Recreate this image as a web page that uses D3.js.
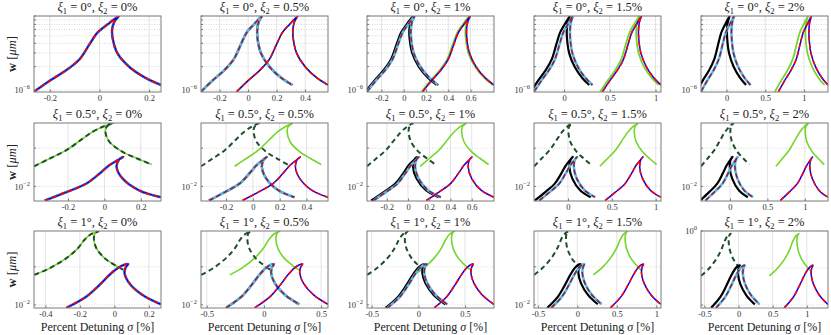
<!DOCTYPE html>
<html><head><meta charset="utf-8">
<script src="https://cdn.jsdelivr.net/npm/d3@7"></script>
<style>
body{margin:0;background:#fff}
svg{display:block}
text{font-family:"Liberation Serif","DejaVu Serif",serif}
</style>
</head><body>
<svg id="c" width="831" height="335"></svg>
<script>
// ---------------- data ----------------
const xi1Labels = ["0", "0.5", "1"];            // degrees, one per row
const xi2Labels = ["0", "0.5", "1", "1.5", "2"]; // percent, one per column
const detuningShift = [0, 0.25, 0.5, 0.75, 1.0];       // shift of the second resonance per column
const greenShiftRow1 = [0, 0.25, 0.49, 0.725, 0.955];   // green curve in row 1
const blackShift = [[0, 0, -0.014, -0.035, -0.058],
                    [0, 0, -0.02, -0.05, -0.07],
                    [0, 0, -0.02, -0.05, -0.07]];
const xMinRow = [-0.33, -0.387, -0.55];
const xMaxCol = [0.31, 0.56, 0.81, 1.06, 1.31];
const xDomainCol1 = [[-0.264, 0.248], [-0.387, 0.311], [-0.466, 0.270]];
const xTicks = [
  [[-0.2, 0, 0.2], [-0.2, 0, 0.2, 0.4], [-0.2, 0, 0.2, 0.4, 0.6], [0, 0.5, 1], [0, 0.5, 1]],
  [[-0.2, 0, 0.2], [-0.2, 0, 0.2, 0.4], [-0.2, 0, 0.2, 0.4, 0.6], [0, 0.5, 1], [0, 0.5, 1]],
  [[-0.4, -0.2, 0, 0.2], [-0.5, 0, 0.5], [-0.5, 0, 0.5], [-0.5, 0, 0.5, 1], [-0.5, 0, 0.5, 1]]
];
const yDomainRow = [[0.942e-6, 9.0e-6], [0.00415, 0.455], [0.0083, 0.87]];
const yTopRow3Col5 = 1.0;
const yGridMajor = [[1e-6], [1e-2, 1e-1], [1e-2, 1e-1, 1e0]];
const yGridMinor = [[2e-6, 3e-6, 4e-6, 5e-6, 6e-6, 7e-6, 8e-6, 9e-6], [], []];
const yLabelTicks = [[1e-6], [1e-2], [1e-2]];
const yLabelTicksRow3Col5 = [1e0];

// primary resonance curve (cyan / dark-red dashed), per row: [sigma %, w]
const curveA = [
  [[-0.33, 0.95e-6], [-0.25, 1.32e-6], [-0.167, 1.80e-6], [-0.10, 2.5e-6], [-0.05, 3.9e-6],
   [-0.01, 5.5e-6], [0.04, 7.0e-6], [0.097, 9.0e-6], [0.075, 7.6e-6], [0.064, 6.0e-6],
   [0.066, 4.65e-6], [0.09, 2.99e-6], [0.15, 1.99e-6], [0.233, 1.43e-6], [0.31, 1.16e-6]],
  [[-0.327, 0.00428], [-0.209, 0.00708], [-0.10, 0.0118], [-0.027, 0.0216], [0.027, 0.0357],
   [0.073, 0.0483], [0.104, 0.059], [0.082, 0.0514], [0.067, 0.0322], [0.10, 0.016],
   [0.191, 0.00785], [0.309, 0.00522]],
  [[-0.331, 0.0084], [-0.196, 0.0165], [-0.107, 0.0336], [-0.04, 0.0615], [0.016, 0.0925],
   [0.061, 0.113], [0.088, 0.118], [0.070, 0.096], [0.063, 0.068], [0.095, 0.0373],
   [0.184, 0.0183], [0.308, 0.0104]]
];
// first-column panels of rows 1 and 3 (xi2 = 0%) have their own curves
const curveARow1Col1 = [[-0.264, 0.95e-6], [-0.2, 1.32e-6], [-0.134, 1.80e-6], [-0.08, 2.5e-6],
  [-0.04, 3.9e-6], [-0.008, 5.5e-6], [0.032, 7.0e-6], [0.078, 9.0e-6], [0.06, 7.6e-6],
  [0.051, 6.0e-6], [0.053, 4.65e-6], [0.072, 2.99e-6], [0.12, 1.99e-6], [0.186, 1.43e-6],
  [0.248, 1.16e-6]];
const curveARow3Col1 = [[-0.278, 0.0084], [-0.163, 0.0165], [-0.086, 0.0336], [-0.029, 0.0615],
  [0.019, 0.0925], [0.057, 0.113], [0.080, 0.118], [0.065, 0.096], [0.059, 0.068], [0.086, 0.0373],
  [0.162, 0.0183], [0.268, 0.0104]];
// upper (angle) resonance curve (dark green dashed / light green), rows 2 and 3
const curveE = [
  null,
  [[-0.386, 0.0336], [-0.30, 0.0536], [-0.209, 0.0885], [-0.118, 0.18], [-0.064, 0.269],
   [-0.009, 0.364], [0.045, 0.447], [0.0125, 0.364], [0.0055, 0.269], [0.027, 0.147],
   [0.10, 0.080], [0.18, 0.0536], [0.26, 0.0372]],
  [[-0.548, 0.0615], [-0.443, 0.0925], [-0.331, 0.169], [-0.253, 0.31], [-0.208, 0.514],
   [-0.163, 0.726], [-0.115, 0.849], [-0.134, 0.77], [-0.145, 0.569], [-0.129, 0.31],
   [-0.073, 0.169], [-0.006, 0.113], [0.07, 0.078]]
];
const curveERow3Col1 = [[-0.464, 0.0615], [-0.374, 0.0925], [-0.278, 0.169], [-0.211, 0.31],
  [-0.173, 0.514], [-0.134, 0.726], [-0.093, 0.849], [-0.110, 0.77], [-0.119, 0.569],
  [-0.105, 0.31], [-0.057, 0.169], [0.000, 0.113], [0.065, 0.078]];

// ---------------- layout ----------------
const colLeft = [34, 201, 367, 534, 701];
const panelW = 127;
const rowTop = [16, 123, 231];
const rowBottom = [92, 201, 308];

const svg = d3.select("#c");
const defs = svg.append("defs");
const shift = (pts, s) => pts.map(p => [p[0] + s, p[1]]);

function supLabel(sel, v) {
  const e = Math.round(Math.log10(v));
  sel.text(null);
  sel.append("tspan").text("10");
  sel.append("tspan").attr("dy", -4).attr("font-size", 6.5).text(e < 0 ? "\u2212" + (-e) : String(e));
}

for (let r = 0; r < 3; r++) {
  for (let c = 0; c < 5; c++) {
    const x0 = colLeft[c], x1 = x0 + panelW, y0 = rowTop[r], y1 = rowBottom[r];
    const xdom = c === 0 ? xDomainCol1[r] : [xMinRow[r], xMaxCol[c]];
    const xs = d3.scaleLinear().domain(xdom).range([x0, x1]);
    const yd = (r === 2 && c === 4) ? [yDomainRow[2][0], yTopRow3Col5] : yDomainRow[r];
    const ys = d3.scaleLog().domain(yd).range([y1, y0]);
    const g = svg.append("g");
    const cid = `clip${r}${c}`;
    defs.append("clipPath").attr("id", cid).append("rect")
      .attr("x", x0).attr("y", y0).attr("width", panelW).attr("height", y1 - y0);

    // grid
    const xt = xTicks[r][c];
    g.selectAll(".vg").data(xt).join("line")
      .attr("x1", d => xs(d)).attr("x2", d => xs(d)).attr("y1", y0).attr("y2", y1)
      .attr("stroke", "#e3e3e3").attr("stroke-width", 1);
    const majors = yGridMajor[r].filter(v => v >= yd[0] * 0.999 && v <= yd[1] * 1.001);
    g.selectAll(".hg").data(majors.concat(yGridMinor[r])).join("line")
      .attr("x1", x0).attr("x2", x1).attr("y1", d => ys(d)).attr("y2", d => ys(d))
      .attr("stroke", "#cfcfcf").attr("stroke-width", 0.8).attr("stroke-dasharray", "1,1.5");

    // curves
    const line = d3.line().x(d => xs(d[0])).y(d => ys(d[1])).curve(d3.curveCatmullRom.alpha(0.5));
    const cg = g.append("g").attr("clip-path", `url(#${cid})`).attr("fill", "none")
      .attr("stroke-linejoin", "round");
    let A = curveA[r];
    if (c === 0 && r === 0) A = curveARow1Col1;
    if (c === 0 && r === 2) A = curveARow3Col1;
    const s = detuningShift[c];
    if (r === 0) {
      cg.append("path").attr("d", line(shift(A, greenShiftRow1[c])))
        .attr("stroke", "#74d62c").attr("stroke-width", 1.8);
    } else {
      const E = (c === 0 && r === 2) ? curveERow3Col1 : curveE[r];
      cg.append("path").attr("d", line(shift(E, s)))
        .attr("stroke", "#74d62c").attr("stroke-width", 1.6);
      cg.append("path").attr("d", line(E))
        .attr("stroke", "#1f4f2b").attr("stroke-width", 2).attr("stroke-dasharray", "5,3.5");
    }
    cg.append("path").attr("d", line(shift(A, blackShift[r][c])))
      .attr("stroke", "#000").attr("stroke-width", 2.2);
    cg.append("path").attr("d", line(A))
      .attr("stroke", "#4DBEEE").attr("stroke-width", 2.6);
    cg.append("path").attr("d", line(A))
      .attr("stroke", "#A2142F").attr("stroke-width", 1.5).attr("stroke-dasharray", "5,3");
    cg.append("path").attr("d", line(shift(A, s)))
      .attr("stroke", "#0000FF").attr("stroke-width", 1.5);
    cg.append("path").attr("d", line(shift(A, s)))
      .attr("stroke", "#FF0000").attr("stroke-width", 1.5).attr("stroke-dasharray", "5,3");

    // frame
    g.append("rect").attr("x", x0).attr("y", y0).attr("width", panelW).attr("height", y1 - y0)
      .attr("fill", "none").attr("stroke", "#7a7a7a").attr("stroke-width", 1);

    // x axis
    const xa = g.append("g").attr("transform", `translate(0,${y1})`)
      .call(d3.axisBottom(xs).tickValues(xt).tickSizeInner(-2.5).tickSizeOuter(0).tickPadding(3)
        .tickFormat(d => d3.format("")(d).replace("−", "-")));
    xa.select(".domain").remove();
    xa.selectAll("line").attr("stroke", "#7a7a7a");
    xa.selectAll("text").attr("font-size", 8.5).attr("fill", "#333").attr("font-family", "Liberation Serif, serif");

    // y axis
    const labs = (r === 2 && c === 4) ? yLabelTicksRow3Col5 : yLabelTicks[r];
    const ya = g.append("g").attr("transform", `translate(${x0},0)`)
      .call(d3.axisLeft(ys).tickValues(labs).tickSizeInner(0).tickSizeOuter(0).tickPadding(4));
    ya.select(".domain").remove();
    ya.selectAll("text").attr("font-size", 8.5).attr("fill", "#333").attr("font-family", "Liberation Serif, serif")
      .each(function (d) { supLabel(d3.select(this), d); });
    g.selectAll(".yt").data(majors.concat(yGridMinor[r])).join("line")
      .attr("x1", x0).attr("x2", x0 + 2).attr("y1", d => ys(d)).attr("y2", d => ys(d))
      .attr("stroke", "#7a7a7a");

    // title
    const t = g.append("text").attr("x", (x0 + x1) / 2).attr("y", y0 - 5)
      .attr("text-anchor", "middle").attr("font-size", 12.5).attr("fill", "#222");
    t.append("tspan").attr("font-style", "italic").text("ξ");
    t.append("tspan").attr("font-size", 8.5).attr("dy", 2.5).text("1");
    t.append("tspan").attr("dy", -2.5).text(` = ${xi1Labels[r]}°, `);
    t.append("tspan").attr("font-style", "italic").text("ξ");
    t.append("tspan").attr("font-size", 8.5).attr("dy", 2.5).text("2");
    t.append("tspan").attr("dy", -2.5).text(` = ${xi2Labels[c]}%`);

    // y label
    if (c === 0) {
      const cy = (y0 + y1) / 2;
      const yl = g.append("text").attr("transform", `translate(16,${cy}) rotate(-90)`)
        .attr("text-anchor", "middle").attr("font-size", 12.5).attr("fill", "#222");
      yl.append("tspan").attr("font-weight", "bold").text("w");
      yl.append("tspan").text(" [");
      yl.append("tspan").attr("font-style", "italic").text("μm");
      yl.append("tspan").text("]");
    }
    // x label
    if (r === 2) {
      const xl = g.append("text").attr("x", (x0 + x1) / 2).attr("y", 331)
        .attr("text-anchor", "middle").attr("font-size", 12).attr("fill", "#222");
      xl.append("tspan").text("Percent Detuning ");
      xl.append("tspan").attr("font-style", "italic").text("σ");
      xl.append("tspan").text(" [%]");
    }
  }
}
</script>
</body></html>
